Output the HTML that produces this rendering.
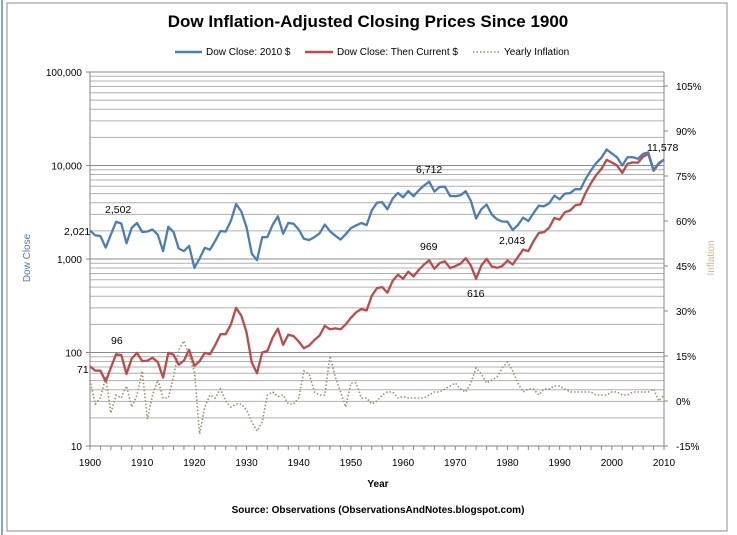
<!DOCTYPE html>
<html><head><meta charset="utf-8"><style>
body{margin:0;background:#fff;}
svg{display:block;font-family:"Liberation Sans",sans-serif;}
</style></head><body>
<svg id="c" width="737" height="535">
<rect x="1" y="0" width="2" height="535" fill="#7fa6d6"/>
<rect x="7" y="3" width="720" height="528" fill="#fff" stroke="#8c8c8c"/>
<text x="368" y="27" text-anchor="middle" font-size="17" font-weight="bold" fill="#000">Dow Inflation-Adjusted Closing Prices Since 1900</text>
<g font-size="10" fill="#000">
<line x1="175" y1="52" x2="202" y2="52" stroke="#4a7ebb" stroke-width="2.5"/><text x="206" y="55">Dow Close: 2010 $</text>
<line x1="305" y1="52" x2="333" y2="52" stroke="#be4b48" stroke-width="2.5"/><text x="337" y="55">Dow Close: Then Current $</text>
<line x1="473" y1="52" x2="500" y2="52" stroke="#9a926a" stroke-width="1.5" stroke-dasharray="1.5,2"/><text x="504" y="55">Yearly Inflation</text>
</g>
<g id="grid"></g><g id="axes"></g><g id="series"></g>
<text transform="translate(30,258) rotate(-90)" text-anchor="middle" font-size="10" fill="#4a7ebb">Dow Close</text>
<text transform="translate(714,258) rotate(-90)" text-anchor="middle" font-size="10" fill="#c5b98a">Inflation</text>
<text x="378" y="487" text-anchor="middle" font-size="10" font-weight="bold">Year</text>
<text x="378" y="513" text-anchor="middle" font-size="10" font-weight="bold">Source: Observations (ObservationsAndNotes.blogspot.com)</text>
<g font-size="10.5" fill="#000">
<text x="105" y="213">2,502</text>
<text x="64" y="235">2,021</text>
<text x="111" y="344">96</text>
<text x="77" y="373">71</text>
<text x="416" y="173">6,712</text>
<text x="420" y="250">969</text>
<text x="467" y="297">616</text>
<text x="499" y="244">2,043</text>
<text x="647" y="151">11,578</text>
</g>
</svg>
<script>
const years=[];for(let y=1900;y<=2010;y++)years.push(y);
const nominal=[71,64,64,49,69,96,94,59,86,99,81,82,88,79,54,99,95,74,82,107,72,81,99,96,120,157,157,200,300,248,165,78,60,100,104,144,180,121,155,150,131,111,119,136,152,193,177,181,177,200,235,269,292,281,404,488,500,436,584,679,616,731,652,763,874,969,786,905,944,800,839,890,1020,851,616,852,1005,831,805,839,964,875,1047,1259,1212,1547,1896,1939,2169,2753,2634,3169,3301,3754,3834,5117,6448,7908,9181,11497,10787,10022,8342,10454,10783,10718,12463,13265,8776,10428,11578];
const real=[2021,1792,1760,1323,1829,2502,2397,1475,2150,2426,1944,1968,2068,1817,1215,2208,1948,1295,1214,1380,806,1013,1317,1258,1560,1994,1963,2560,3870,3224,2195,1139,972,1710,1716,2318,2862,1863,2434,2385,2070,1643,1595,1714,1885,2335,1982,1774,1611,1840,2139,2287,2424,2304,3313,4002,4050,3401,4438,5093,4558,5336,4694,5417,6118,6712,5266,5883,5947,4720,4698,4806,5304,4170,2710,3408,3819,2992,2657,2517,2506,2043,2303,2770,2545,3094,3716,3665,3948,4763,4346,5007,5051,5593,5559,7215,8834,10597,12119,14831,13484,12227,10010,12231,12293,11790,13335,13796,8952,10637,11578];
const inflation=[7,-1,1,8,-4,2,1,5,-2,2,10,-6,2,7,1,1,8,17,20,15,10,-11,-2,2,1,4,0,-2,-1,-1,-3,-7,-10,-7,2,3,1.5,2,-1,-1,1,10,9,3,2,2,15,8,3,-2,6,6,1,1,-1,0,2,3,3,1,1.5,1,1,1,1,2,3,3,4,5,6,4,3,6,11,9,6,7,8,11,13,10,6,3,4,4,2,4,4,5,5,4,3,3,3,3,3,2,2,2,3,3,2,2,3,3,3,3,4,0,2];
const leftTicks=[10,100,1000,10000,100000];
const leftTickLabels=["10","100","1,000","10,000","100,000"];
const rightTicks=[-15,0,15,30,45,60,75,90,105];
const xTicks=[1900,1910,1920,1930,1940,1950,1960,1970,1980,1990,2000,2010];
const NS="http://www.w3.org/2000/svg";
const X0=90,X1=664,YT=72,YB=446;
function xs(y){return X0+(y-1900)*(X1-X0)/110;}
function ys(v){return YB-(Math.log10(v)-1)*(YB-YT)/4;}
function yr(p){return 446-(p+15)*45/15;}
function mk(tag,attrs,parent){const e=document.createElementNS(NS,tag);for(const k in attrs)e.setAttribute(k,attrs[k]);parent.appendChild(e);return e;}
const grid=document.getElementById('grid'),axes=document.getElementById('axes'),series=document.getElementById('series');
for(let d=1;d<=4;d++){for(let m=1;m<=10;m++){const v=m*Math.pow(10,d);if(v>100000)continue;
 const l=mk('line',{x1:X0,x2:X1,y1:ys(v),y2:ys(v),stroke:m===1||m===10?'#8a8a8a':'#b0b0b0','stroke-width':1},grid);
 
 }}
mk('line',{x1:X0,x2:X0,y1:YT,y2:YB,stroke:'#868686'},axes);
mk('line',{x1:X1,x2:X1,y1:YT,y2:YB,stroke:'#868686'},axes);
mk('line',{x1:X0,x2:X1,y1:YB,y2:YB,stroke:'#868686'},axes);
leftTicks.forEach((v,i)=>{mk('line',{x1:X0-4,x2:X0,y1:ys(v),y2:ys(v),stroke:'#868686'},axes);
 const t=mk('text',{x:X0-8,y:ys(v)+4,'text-anchor':'end','font-size':10},axes);t.textContent=leftTickLabels[i];
 
 });
rightTicks.forEach(p=>{mk('line',{x1:X1,x2:X1+4,y1:yr(p),y2:yr(p),stroke:'#868686'},axes);
 const t=mk('text',{x:X1+12,y:yr(p)+4,'font-size':10},axes);t.textContent=p+'%';
 
 });
for(let y=1900;y<=2010;y+=2)mk('line',{x1:xs(y),x2:xs(y),y1:YB,y2:YB+4,stroke:'#868686'},axes);
xTicks.forEach(y=>{const t=mk('text',{x:xs(y),y:YB+20,'text-anchor':'middle','font-size':10},axes);t.textContent=y;
 
 });
function path(arr,f){return arr.map((v,i)=>(i?'L':'M')+xs(years[i]).toFixed(1)+','+f(v).toFixed(1)).join('');}
const pi=mk('path',{d:path(inflation,yr),fill:'none',stroke:'#9a926a','stroke-width':1.6,'stroke-dasharray':'1.5,2'},series);


const pn=mk('path',{d:path(nominal,ys),fill:'none',stroke:'#be4b48','stroke-width':2.3,'stroke-linejoin':'round'},series);


const pr=mk('path',{d:path(real,ys),fill:'none',stroke:'#4a7ebb','stroke-width':2.3,'stroke-linejoin':'round'},series);


</script>
</body></html>
